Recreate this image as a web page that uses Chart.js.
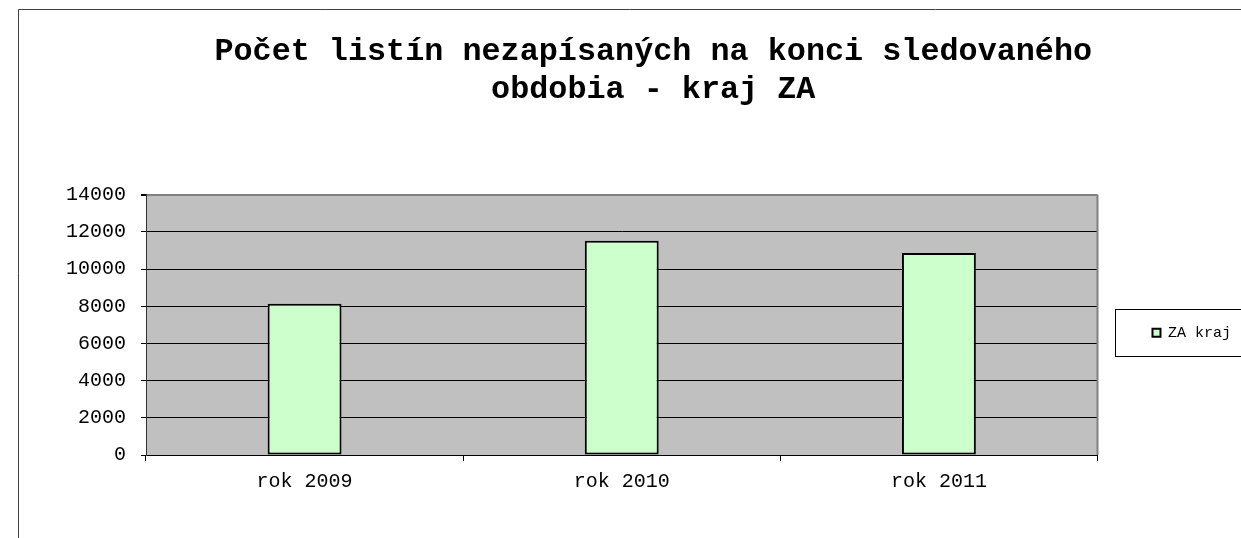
<!DOCTYPE html>
<html>
<head>
<meta charset="utf-8">
<title>Počet listín nezapísaných - kraj ZA</title>
<script src="https://cdn.jsdelivr.net/npm/chart.js@4.4.1/dist/chart.umd.min.js"></script>
<style>
    html, body { margin: 0; padding: 0; background: #fff; overflow: hidden; }
    #wrap { width: 1241px; height: 538px; }
</style>
</head>
<body>
<div id="wrap"><canvas id="krajChart" width="1241" height="538"></canvas></div>
<script>
// data
const roky = ['rok 2009', 'rok 2010', 'rok 2011'];
const zaKraj = [8130, 11520, 10860];
const nazovRady = 'ZA kraj';
const titulok = ['Počet listín nezapísaných na konci sledovaného', 'obdobia - kraj ZA'];
const yTicks = [0, 2000, 4000, 6000, 8000, 10000, 12000, 14000];

const FONT = "'Liberation Mono', 'Courier New', monospace";

// gray plot area, plot edge, outer frame and legend frame
const ramiky = {
    id: 'ramiky',
    beforeDraw(chart) {
        const { ctx, chartArea: a } = chart;
        ctx.save();
        ctx.fillStyle = '#c0c0c0';
        ctx.fillRect(a.left, a.top, a.right - a.left, a.bottom - a.top);
        ctx.restore();
    },
    afterDraw(chart) {
        const { ctx, chartArea: a } = chart;
        ctx.save();
        // right edge of the plot
        ctx.strokeStyle = '#808080';
        ctx.lineWidth = 2;
        ctx.beginPath();
        ctx.moveTo(a.right, a.top);
        ctx.lineTo(a.right, a.bottom);
        ctx.stroke();
        // outer chart frame (cut off on the right and bottom)
        ctx.strokeStyle = '#404040';
        ctx.lineWidth = 1;
        ctx.beginPath();
        ctx.moveTo(18.5, chart.height);
        ctx.lineTo(18.5, 9.5);
        ctx.lineTo(chart.width, 9.5);
        ctx.stroke();
        // legend frame
        const hb = chart.legend.legendHitBoxes[0];
        if (hb) {
            const cy = hb.top + hb.height / 2;
            ctx.strokeStyle = '#000';
            ctx.strokeRect(Math.round(hb.left - 37) + 0.5, Math.round(cy - 24) + 0.5, chart.width, 47);
        }
        ctx.restore();
    }
};

const krajChart = new Chart(document.getElementById('krajChart'), {
    type: 'bar',
    data: {
        labels: roky,
        datasets: [{
            label: nazovRady,
            data: zaKraj,
            backgroundColor: '#ccffcc',
            borderColor: '#000',
            borderWidth: 2,
            borderSkipped: false,
            categoryPercentage: 1,
            barPercentage: 0.233
        }]
    },
    options: {
        responsive: false,
        animation: false,
        devicePixelRatio: 1,
        layout: {
            padding: { left: 65.5, right: 0, top: 9, bottom: 33 }
        },
        plugins: {
            title: {
                display: true,
                text: titulok,
                color: '#000',
                font: { family: FONT, size: 31.8, weight: 'bold', lineHeight: 1.2 },
                padding: { top: 24, bottom: 85.4 }
            },
            legend: {
                display: true,
                position: 'right',
                fullSize: false,
                align: 'center',
                title: { display: true, text: '', padding: 0, font: { size: 13, lineHeight: 1.2 } },
                labels: {
                    boxWidth: 8,
                    boxHeight: 8,
                    padding: 55,
                    color: '#000',
                    font: { family: FONT, size: 15 }
                }
            },
            tooltip: { enabled: false }
        },
        scales: {
            x: {
                grid: {
                    offset: true,
                    drawOnChartArea: false,
                    tickLength: 6,
                    color: '#000'
                },
                border: { color: '#000', width: 1 },
                ticks: {
                    color: '#000',
                    padding: 9,
                    font: { family: FONT, size: 20 }
                },
                afterFit(scale) { scale.height = 50; }
            },
            y: {
                min: yTicks[0],
                max: yTicks[yTicks.length - 1],
                afterBuildTicks(scale) {
                    scale.ticks = yTicks.map(v => ({ value: v }));
                },
                grid: {
                    color: c => c.tick && c.tick.value === 14000 ? '#808080' : '#000',
                    lineWidth: c => c.tick && c.tick.value === 14000 ? 2 : 1,
                    tickLength: 5,
                    tickColor: '#000'
                },
                border: { color: '#333', width: 1 },
                ticks: {
                    color: '#000',
                    padding: 15,
                    font: { family: FONT, size: 20 },
                    callback: v => String(v)
                },
                afterFit(scale) { scale.width = 146 - 65.5; }
            }
        }
    },
    plugins: [ramiky]
});
</script>
</body>
</html>
